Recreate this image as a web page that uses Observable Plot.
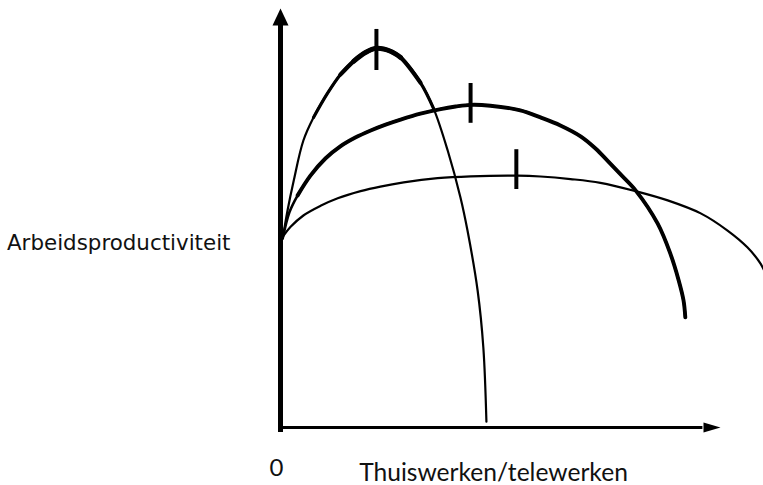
<!DOCTYPE html>
<html>
<head>
<meta charset="utf-8">
<script src="https://cdn.jsdelivr.net/npm/d3@7"></script>
<script src="https://cdn.jsdelivr.net/npm/@observablehq/plot@0.6"></script>
<style>
  html, body { margin: 0; padding: 0; background: #fff; }
  svg { overflow: hidden; display: block; }
</style>
</head>
<body>
<div id="chart"></div>
<script>
// Labels
const yLabel = "Arbeidsproductiviteit";
const xLabel = "Thuiswerken/telewerken";
const originLabel = "0";

// Curve 1: steep, high optimum
const curve1X = [0.5, 1.6, 3.0, 5.2, 7.5, 10.7, 13.6, 16.6, 19.3, 21.8, 25.0, 27.3, 31.8, 34.8, 38.0, 40.9, 42.5, 44.8, 46.1, 46.8];
const curve1Y = [45.1, 51.8, 58.9, 68.5, 74.0, 79.8, 84.2, 87.4, 89.5, 90.5, 89.8, 88.3, 82.3, 76.1, 66.1, 54.9, 47.0, 32.7, 19.1, 1.4];

// Curve 2: medium
const curve2X = [0.5, 2.0, 3.9, 6.8, 10.2, 13.6, 17.0, 20.5, 23.9, 27.3, 31.8, 36.4, 39.8, 43.2, 47.7, 54.5, 59.1, 63.6, 68.2, 71.6, 74.3, 77.3, 80.7, 85.7, 88.6, 90.5, 91.6, 92.0];
const curve2Y = [45.1, 51.3, 55.4, 60.1, 64.2, 67.1, 69.2, 70.9, 72.3, 73.5, 74.9, 76.0, 76.6, 77.0, 76.8, 75.7, 74.0, 72.1, 69.5, 66.6, 63.7, 60.4, 56.6, 48.7, 41.5, 35.1, 30.3, 26.3];

// Curve 3: flat, wide
const curve3X = [0.7, 2.3, 5.2, 9.1, 13.0, 18.2, 22.7, 28.0, 35.7, 43.2, 53.9, 59.1, 65.9, 72.7, 81.1, 88.0, 95.5, 101.6, 106.1, 109.1, 111.4];
const curve3Y = [45.8, 47.9, 50.6, 52.9, 54.7, 56.4, 57.5, 58.5, 59.5, 59.95, 60.1, 59.9, 59.3, 58.4, 56.3, 54.2, 51.1, 47.0, 43.0, 39.1, 33.9];

// Optimum markers
const optimumX = [21.8, 43.2, 53.6];
const optimumY1 = [85.2, 72.6, 56.8];
const optimumY2 = [95.0, 82.1, 66.3];

const axisMax = 100;

const toRows = (xs, ys) => xs.map((x, i) => ({x, y: ys[i]}));
const c1 = toRows(curve1X, curve1Y);
const c2 = toRows(curve2X, curve2Y);
const c3 = toRows(curve3X, curve3Y);
const optima = optimumX.map((x, i) => ({x, y1: optimumY1[i], y2: optimumY2[i]}));

const upHead = { draw(ctx) { ctx.moveTo(0, 0); ctx.lineTo(8, 17); ctx.lineTo(-8, 17); ctx.closePath(); } };
const rightHead = { draw(ctx) { ctx.moveTo(0, 0); ctx.lineTo(-17, -5); ctx.lineTo(-17, 5); ctx.closePath(); } };

const lineOpts = {x: "x", y: "y", curve: "catmull-rom", stroke: "black", strokeLinecap: "round", strokeLinejoin: "round"};

const chart = Plot.plot({
  width: 763,
  height: 485,
  marginLeft: 280,
  marginRight: 43,
  marginTop: 8,
  marginBottom: 58,
  x: {domain: [0, axisMax], axis: null},
  y: {domain: [0, axisMax], axis: null},
  marks: [
    // axes
    Plot.ruleY([0], {x1: 0, x2: axisMax * 0.96, stroke: "black", strokeWidth: 3}),
    Plot.ruleX([0], {y1: -1.2, y2: axisMax * 0.96, stroke: "black", strokeWidth: 5}),
    Plot.dot([0], {x: () => 0, y: () => axisMax, symbol: upHead, fill: "black", stroke: "none"}),
    Plot.dot([0], {x: () => axisMax, y: () => 0, symbol: rightHead, fill: "black", stroke: "none"}),
    // curve 3 (thin)
    Plot.line(c3, {...lineOpts, strokeWidth: 2.2}),
    // curve 2 (thick)
    Plot.line(c2, {...lineOpts, strokeWidth: 2.6}),
    Plot.line(c2.filter(d => d.x > 3), {...lineOpts, strokeWidth: 3.9}),
    // curve 1 (tapered)
    Plot.line(c1, {...lineOpts, strokeWidth: 2.2}),
    Plot.line(c1.filter(d => d.y > 70), {...lineOpts, strokeWidth: 3.2}),
    Plot.line(c1.filter(d => d.y > 80), {...lineOpts, strokeWidth: 4.2}),
    Plot.line(c1.filter(d => d.y > 86), {...lineOpts, strokeWidth: 5}),
    // optimum ticks
    Plot.ruleX(optima, {x: "x", y1: "y1", y2: "y2", stroke: "black", strokeWidth: 4}),
    // labels
    Plot.text([yLabel], {text: d => d, frameAnchor: "left", textAnchor: "end", lineAnchor: "bottom", dx: -50, dy: 31.5, fontFamily: "DejaVu Sans", fontSize: 21.4, fill: "#111"}),
    Plot.text([xLabel], {text: d => d, frameAnchor: "bottom", lineAnchor: "bottom", dx: -7, dy: 53, fontFamily: "Lato", fontSize: 24.6, fill: "#111"}),
    Plot.text([originLabel], {text: d => d, x: () => 0, frameAnchor: "bottom", lineAnchor: "bottom", dx: -4, dy: 48, fontFamily: "Lato", fontSize: 24, fill: "#111"})
  ]
});
document.getElementById("chart").appendChild(chart);
</script>
</body>
</html>
